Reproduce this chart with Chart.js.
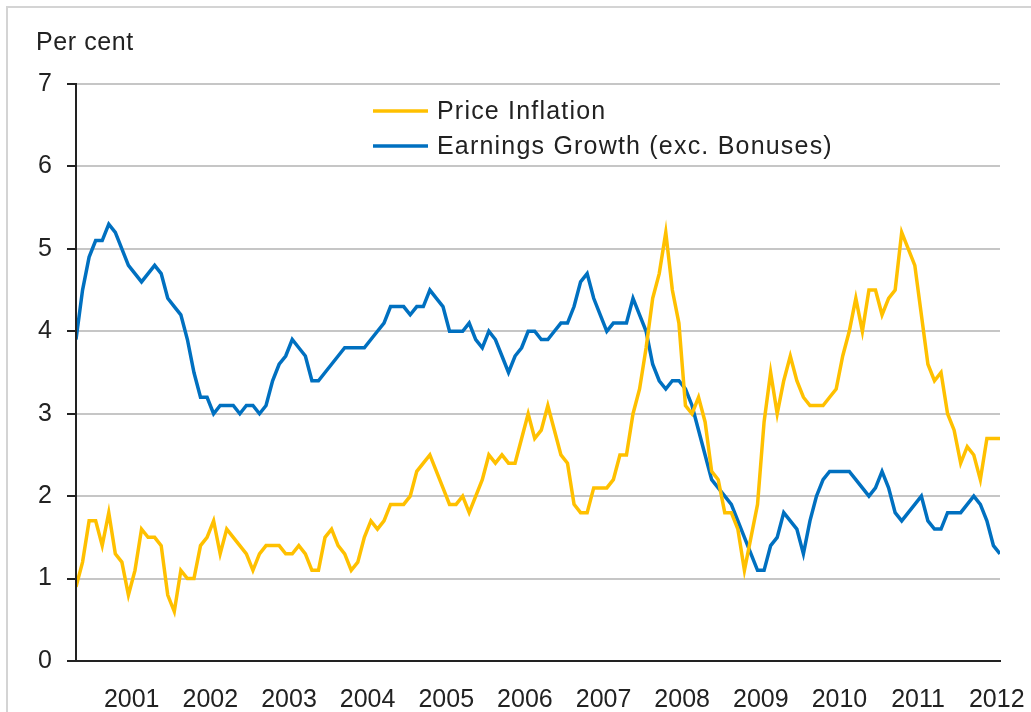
<!DOCTYPE html>
<html><head><meta charset="utf-8">
<script src="https://cdn.jsdelivr.net/npm/chart.js@4.4.0/dist/chart.umd.min.js"></script>
<style>
html,body{margin:0;padding:0;background:#fff;}
#wrap{position:relative;width:1031px;height:712px;overflow:hidden;background:#fff;}
#frame{position:absolute;left:6px;top:6px;width:1060px;height:760px;border-left:2px solid #d4d4d4;border-top:2px solid #d4d4d4;}
#unit{position:absolute;left:36px;top:27px;font:25px "Liberation Sans",Arial,sans-serif;letter-spacing:0.6px;color:#222;white-space:nowrap;}
canvas{position:absolute;left:0;top:0;}
</style></head><body>
<div id="wrap"><div id="frame"></div><canvas id="c" width="1031" height="712"></canvas><div id="unit">Per cent</div></div>
<script>
// Monthly data, March 2001 to December 2012
const startYear = 2001, startMonth = 2; // March (0-based)
const yearLabels = ['2001','2002','2003','2004','2005','2006','2007','2008','2009','2010','2011','2012'];
const yTickValues = [0,1,2,3,4,5,6,7];
const seriesNames = ['Price Inflation','Earnings Growth (exc. Bonuses)'];

const priceInflation = [
  0.9,1.2,1.7,1.7,1.4,1.8,1.3,1.2,0.8,1.1,
  1.6,1.5,1.5,1.4,0.8,0.6,1.1,1.0,1.0,1.4,1.5,1.7,
  1.3,1.6,1.5,1.4,1.3,1.1,1.3,1.4,1.4,1.4,1.3,1.3,
  1.4,1.3,1.1,1.1,1.5,1.6,1.4,1.3,1.1,1.2,1.5,1.7,
  1.6,1.7,1.9,1.9,1.9,2.0,2.3,2.4,2.5,2.3,2.1,1.9,
  1.9,2.0,1.8,2.0,2.2,2.5,2.4,2.5,2.4,2.4,2.7,3.0,
  2.7,2.8,3.1,2.8,2.5,2.4,1.9,1.8,1.8,2.1,2.1,2.1,
  2.2,2.5,2.5,3.0,3.3,3.8,4.4,4.7,5.2,4.5,4.1,3.1,
  3.0,3.2,2.9,2.3,2.2,1.8,1.8,1.6,1.1,1.5,1.9,2.9,
  3.5,3.0,3.4,3.7,3.4,3.2,3.1,3.1,3.1,3.2,3.3,3.7,
  4.0,4.4,4.0,4.5,4.5,4.2,4.4,4.5,5.2,5.0,4.8,4.2,
  3.6,3.4,3.5,3.0,2.8,2.4,2.6,2.5,2.2,2.7,2.7,2.7
];
const earningsGrowth = [
  3.9,4.5,4.9,5.1,5.1,5.3,5.2,5.0,4.8,4.7,
  4.6,4.7,4.8,4.7,4.4,4.3,4.2,3.9,3.5,3.2,3.2,3.0,
  3.1,3.1,3.1,3.0,3.1,3.1,3.0,3.1,3.4,3.6,3.7,3.9,
  3.8,3.7,3.4,3.4,3.5,3.6,3.7,3.8,3.8,3.8,3.8,3.9,
  4.0,4.1,4.3,4.3,4.3,4.2,4.3,4.3,4.5,4.4,4.3,4.0,
  4.0,4.0,4.1,3.9,3.8,4.0,3.9,3.7,3.5,3.7,3.8,4.0,
  4.0,3.9,3.9,4.0,4.1,4.1,4.3,4.6,4.7,4.4,4.2,4.0,
  4.1,4.1,4.1,4.4,4.2,4.0,3.6,3.4,3.3,3.4,3.4,3.3,
  3.1,2.8,2.5,2.2,2.1,2.0,1.9,1.7,1.5,1.3,1.1,1.1,
  1.4,1.5,1.8,1.7,1.6,1.3,1.7,2.0,2.2,2.3,2.3,2.3,
  2.3,2.2,2.1,2.0,2.1,2.3,2.1,1.8,1.7,1.8,1.9,2.0,
  1.7,1.6,1.6,1.8,1.8,1.8,1.9,2.0,1.9,1.7,1.4,1.3
];

const monthIndex = priceInflation.map((_, i) => i);
const toPoints = arr => arr.map((v, i) => ({x: monthIndex[i], y: v}));
// year labels sit just before each December
const yearTickPos = yearLabels.map((y, k) => (11 - startMonth) - 0.5 + 12 * k);

const FONT = '"Liberation Sans", Arial, sans-serif';
const INK = '#222222';

const inLegend = {
  id: 'inLegend',
  afterDatasetsDraw(chart) {
    const ctx = chart.ctx;
    chart.data.datasets.forEach((ds, i) => {
      const y = 111 + i * 35;
      ctx.save();
      ctx.strokeStyle = ds.borderColor;
      ctx.lineWidth = ds.borderWidth;
      ctx.beginPath(); ctx.moveTo(373, y); ctx.lineTo(428, y); ctx.stroke();
      ctx.fillStyle = INK;
      ctx.font = '25px ' + FONT;
      if ('letterSpacing' in ctx) ctx.letterSpacing = '1.2px';
      ctx.textBaseline = 'middle';
      ctx.textAlign = 'left';
      ctx.fillText(ds.label, 437, y + 1);
      ctx.restore();
    });
  }
};

new Chart(document.getElementById('c'), {
  type: 'line',
  data: {
    datasets: [
      {label: seriesNames[0], data: toPoints(priceInflation), borderColor: '#FFC000', borderWidth: 3.5, pointRadius: 0, tension: 0, fill: false},
      {label: seriesNames[1], data: toPoints(earningsGrowth), borderColor: '#0070C0', borderWidth: 3.5, pointRadius: 0, tension: 0, fill: false}
    ]
  },
  options: {
    responsive: false,
    animation: false,
    layout: {padding: {left: 0, top: 84, right: 31, bottom: 0}},
    plugins: {legend: {display: false}, tooltip: {enabled: false}},
    scales: {
      x: {
        type: 'linear',
        min: 0, max: priceInflation.length - 1,
        afterBuildTicks: s => { s.ticks = yearTickPos.map(v => ({value: v})); },
        afterFit: s => { s.height = 51; s.paddingLeft = 0; s.paddingRight = 0; },
        ticks: {
          autoSkip: false, maxRotation: 0, padding: 24,
          font: {family: FONT, size: 25}, color: INK,
          callback: (v, i) => yearLabels[i]
        },
        grid: {drawOnChartArea: false, drawTicks: false},
        border: {color: INK, width: 2, z: 2}
      },
      y: {
        min: 0, max: 7,
        afterBuildTicks: s => { s.ticks = yTickValues.map(v => ({value: v})); },
        afterFit: s => { s.width = 76; s.paddingTop = 0; s.paddingBottom = 0; },
        ticks: {padding: 15, font: {family: FONT, size: 25}, color: INK},
        grid: {color: '#c6c6c6', lineWidth: 2, tickColor: INK, tickLength: 9},
        border: {color: INK, width: 2, z: 2}
      }
    }
  },
  plugins: [inLegend]
});
</script>
</body></html>
